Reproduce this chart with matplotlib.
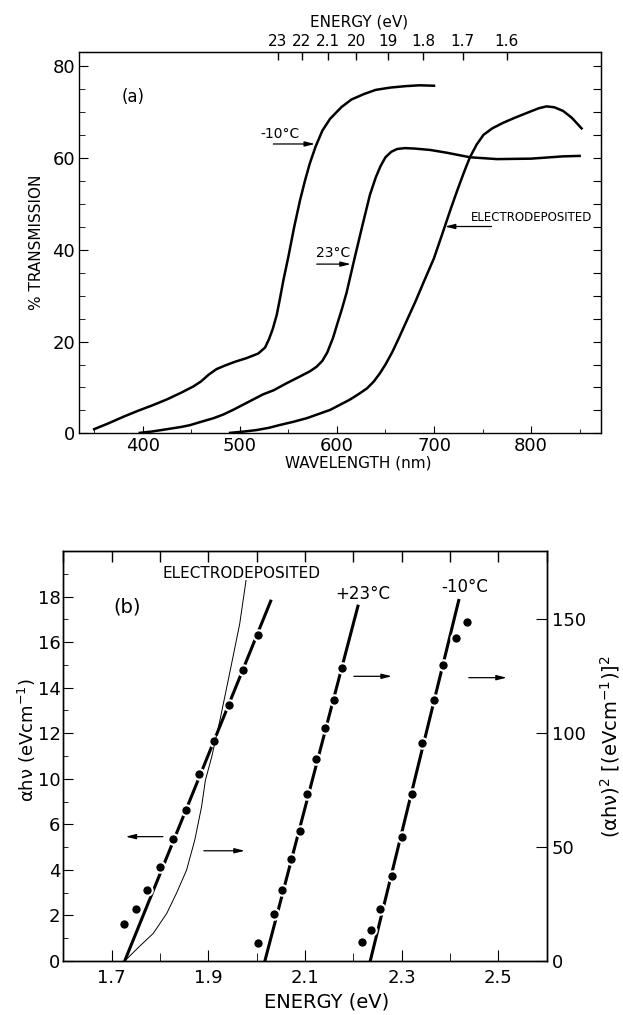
import numpy as np
import matplotlib
matplotlib.use('Agg')
import matplotlib.pyplot as plt
from matplotlib.ticker import MultipleLocator, FixedLocator

# ---- (a) optical transmission vs wavelength ----
wl_m10 = [350, 365, 380, 395, 410, 425, 440, 452, 460, 468, 476, 485, 495, 507, 519, 526, 530,
          534, 538, 541, 545, 550, 556, 562, 567, 572, 578, 585, 593, 605, 615, 628, 640, 655,
          670, 685, 700]
tr_m10 = [0.9, 2.2, 3.6, 4.9, 6.1, 7.4, 8.9, 10.2, 11.3, 12.8, 14.0, 14.8, 15.6, 16.4, 17.4,
          18.7, 20.5, 22.8, 25.8, 29.0, 33.5, 38.5, 45.0, 50.8, 55.0, 58.8, 62.5, 66.0, 68.6,
          71.2, 72.8, 74.0, 74.9, 75.4, 75.7, 75.9, 75.8]

wl_23 = [397, 410, 425, 440, 449, 460, 473, 483, 493, 503, 514, 524, 535, 548, 562, 572, 579,
         585, 590, 596, 600, 605, 610, 617, 626, 634, 640, 645, 650, 656, 662, 670, 680, 696,
         713, 737, 765, 800, 833, 850]
tr_23 = [0.1, 0.4, 0.9, 1.4, 1.8, 2.5, 3.3, 4.1, 5.1, 6.2, 7.4, 8.5, 9.4, 10.9, 12.4, 13.5,
         14.5, 15.8, 17.6, 20.8, 23.6, 27.0, 30.7, 37.1, 45.1, 52.0, 55.8, 58.3, 60.2, 61.4,
         62.0, 62.2, 62.1, 61.8, 61.2, 60.2, 59.8, 59.9, 60.4, 60.5]

wl_ed = [490, 505, 517, 530, 541, 555, 569, 581, 593, 603, 613, 622, 631, 638, 644, 650, 657,
         663, 672, 681, 689, 700, 710, 717, 724, 731, 737, 744, 751, 760, 771, 783, 796, 808,
         816, 824, 833, 842, 852]
tr_ed = [0.1, 0.4, 0.7, 1.2, 1.8, 2.5, 3.3, 4.2, 5.1, 6.2, 7.3, 8.5, 9.8, 11.3, 13.0, 15.0,
         17.7, 20.4, 24.6, 28.8, 32.8, 38.2, 44.4, 48.8, 53.0, 57.0, 60.2, 63.0, 65.1, 66.5,
         67.7, 68.8, 69.9, 70.9, 71.3, 71.1, 70.3, 68.8, 66.5]

ev_ticks_top = [2.3, 2.2, 2.1, 2.0, 1.9, 1.8, 1.7, 1.6]
ev_labels_top = ['23', '22', '2.1', '20', '19', '1.8', '1.7', '1.6']

# ---- (b) absorption edge plots ----
# electrodeposited, alpha*h*nu (left axis)
ed_E = [1.725, 1.750, 1.774, 1.801, 1.827, 1.853, 1.881, 1.911, 1.942, 1.971, 2.003]
ed_a = [1.61, 2.28, 3.11, 4.12, 5.35, 6.62, 8.19, 9.66, 11.26, 12.76, 14.31]
ed_fit_E = [1.727, 2.029]
ed_fit_a = [0.0, 15.8]
# electrodeposited, (alpha*h*nu)^2 thin curve (right axis)
ed_sq_E = [1.727, 1.759, 1.786, 1.814, 1.834, 1.855, 1.872, 1.886, 1.894, 1.907, 1.924,
           1.944, 1.965, 1.978]
ed_sq = [0, 6.7, 12.1, 20.9, 29.7, 39.9, 53.1, 67.7, 79.4, 89.6, 105.7, 126.2, 148.1, 167.1]

# +23 C, (alpha*h*nu)^2 (right axis)
p23_E = [2.003, 2.036, 2.053, 2.072, 2.089, 2.104, 2.122, 2.141, 2.159, 2.177]
p23_sq = [7.8, 20.5, 31.1, 44.7, 57.2, 73.2, 88.6, 102.3, 114.8, 128.5]
p23_fit_E = [2.017, 2.2095]
p23_fit_sq = [0.0, 155.8]

# -10 C, (alpha*h*nu)^2 (right axis)
m10_E = [2.217, 2.237, 2.256, 2.279, 2.300, 2.321, 2.343, 2.367, 2.385, 2.413, 2.436]
m10_sq = [8.5, 13.6, 22.8, 37.4, 54.5, 73.2, 95.9, 114.8, 130.1, 141.8, 148.7]
m10_fit_E = [2.235, 2.418]
m10_fit_sq = [0.0, 158.3]

left_tick_pos = [0, 2, 4, 6, 8, 10, 12, 14, 16]
left_tick_labels = ['0', '2', '4', '6', '10', '12', '14', '16', '18']

plt.rcParams['font.family'] = ['DejaVu Sans']
plt.rcParams['mathtext.fontset'] = 'dejavusans'

fig = plt.figure(figsize=(6.23, 10.15), dpi=100)

arrow = dict(arrowstyle='-|>,head_length=0.6,head_width=0.15', lw=0.9, color='k',
             shrinkA=0, shrinkB=0)


def wl_to_ev(w):
    w = np.asarray(w, dtype=float)
    with np.errstate(divide='ignore'):
        return 1240.0 / w


# ================= (a) =================
ax_a = fig.add_axes([0.1273, 0.5731, 0.8374, 0.3754])
ax_a.plot(wl_m10, tr_m10, color='k', lw=1.8, solid_joinstyle='round')
ax_a.plot(wl_23, tr_23, color='k', lw=1.8, solid_joinstyle='round')
ax_a.plot(wl_ed, tr_ed, color='k', lw=1.8, solid_joinstyle='round')
ax_a.set_xlim(334.7, 872)
ax_a.set_ylim(0, 83.1)
ax_a.set_xticks([400, 500, 600, 700, 800])
ax_a.xaxis.set_minor_locator(MultipleLocator(50))
ax_a.set_yticks([0, 20, 40, 60, 80])
ax_a.yaxis.set_minor_locator(MultipleLocator(5))
ax_a.tick_params(which='both', direction='in', labelsize=13)
ax_a.tick_params(axis='x', which='major', length=4.8, pad=3)
ax_a.tick_params(axis='x', which='minor', length=3.1)
ax_a.tick_params(axis='y', which='major', length=6.5, pad=3)
ax_a.tick_params(axis='y', which='minor', length=4.1)
for s in ax_a.spines.values():
    s.set_linewidth(1.0)

ax_a.set_xlabel('WAVELENGTH (nm)', fontsize=11)
ax_a.xaxis.set_label_coords(0.5356, -0.058)
ax_a.set_ylabel('% TRANSMISSION', fontsize=11)
ax_a.yaxis.set_label_coords(-0.0686, 0.5)

top_a = ax_a.secondary_xaxis('top', functions=(wl_to_ev, wl_to_ev))
top_a.set_xticks(ev_ticks_top)
top_a.set_xticklabels(ev_labels_top)
top_a.tick_params(direction='in', length=6, width=1.0, pad=2, labelsize=11)
ax_a.text(0.5356, 1.080, 'ENERGY (eV)', transform=ax_a.transAxes, fontsize=11,
          ha='center', va='center')

right_a = ax_a.secondary_yaxis('right')
right_a.set_yticks(np.arange(0, 85, 5))
right_a.tick_params(direction='in', length=5.5, labelright=False)

ax_a.text(390.3, 73.4, '(a)', fontsize=12, ha='center', va='center')
ax_a.text(541.4, 65.2, '-10°C', fontsize=10, ha='center', va='center')
ax_a.annotate('', xy=(577.4, 63.1), xytext=(534.5, 63.1), arrowprops=arrow)
ax_a.text(595.7, 39.4, '23°C', fontsize=10, ha='center', va='center')
ax_a.annotate('', xy=(614.3, 36.9), xytext=(579.2, 36.9), arrowprops=arrow)
ax_a.text(800.4, 47.0, 'ELECTRODEPOSITED', fontsize=8.5, ha='center', va='center')
ax_a.annotate('', xy=(711.2, 45.1), xytext=(759.2, 45.1), arrowprops=arrow)

# ================= (b) =================
ax_b = fig.add_axes([0.1016, 0.0532, 0.7759, 0.4039])
ax2 = ax_b.twinx()

ax_b.plot(ed_fit_E, ed_fit_a, color='k', lw=2.2, zorder=2)
ax_b.plot(ed_E, ed_a, 'o', ms=7.5, mfc='k', mec='white', mew=1.5, zorder=3)

ax2.plot(ed_sq_E, ed_sq, color='k', lw=0.7, zorder=2)
ax2.plot(p23_fit_E, p23_fit_sq, color='k', lw=2.2, zorder=2)
ax2.plot(p23_E, p23_sq, 'o', ms=7.5, mfc='k', mec='white', mew=1.5, zorder=3)
ax2.plot(m10_fit_E, m10_fit_sq, color='k', lw=2.2, zorder=2)
ax2.plot(m10_E, m10_sq, 'o', ms=7.5, mfc='k', mec='white', mew=1.5, zorder=3)

ax_b.set_xlim(1.6, 2.6)
ax_b.set_ylim(0, 18)
ax2.set_ylim(0, 180)

ax_b.set_xticks([1.7, 1.9, 2.1, 2.3, 2.5])
ax_b.set_xticklabels(['1.7', '1.9', '2.1', '2.3', '2.5'])
ax_b.xaxis.set_minor_locator(MultipleLocator(0.1))
ax_b.set_yticks(left_tick_pos)
ax_b.set_yticklabels(left_tick_labels)
ax_b.yaxis.set_minor_locator(FixedLocator([1, 3, 5, 7, 9, 11, 13, 15, 17]))
ax_b.tick_params(which='both', direction='in', labelsize=13)
ax_b.tick_params(axis='x', which='major', length=8, pad=5.5)
ax_b.tick_params(axis='x', which='minor', length=5.5)
ax_b.tick_params(axis='y', which='major', length=7.2, pad=2)
ax_b.tick_params(axis='y', which='minor', length=3.6)

ax2.set_yticks([0, 50, 100, 150])
ax2.tick_params(axis='y', direction='in', length=7.7, pad=3.6, labelsize=13)
# ticks along the top edge at every 0.1 eV
ax2.xaxis.set_visible(True)
ax2.tick_params(axis='x', which='both', top=True, bottom=False, labeltop=False,
                labelbottom=False, direction='in', length=7.7, width=1.0)
for a in (ax_b, ax2):
    for s in a.spines.values():
        s.set_linewidth(1.0)

ax_b.set_xlabel('ENERGY (eV)', fontsize=14)
ax_b.xaxis.set_label_coords(0.5445, -0.0757)
ax_b.set_ylabel('αhν (eVcm$^{-1}$)', fontsize=13)
ax_b.yaxis.set_label_coords(-0.052, 0.539)
ax2.set_ylabel('(αhν)$^2$ [(eVcm$^{-1}$)]$^2$', fontsize=14)
ax2.yaxis.set_label_coords(1.106, 0.524)

ax_b.text(1.732, 15.54, '(b)', fontsize=14, ha='center', va='center')
ax_b.text(1.968, 17.0, 'ELECTRODEPOSITED', fontsize=11, ha='center', va='center')
ax_b.text(2.22, 16.13, '+23°C', fontsize=12, ha='center', va='center')
ax_b.text(2.43, 16.42, '-10°C', fontsize=12, ha='center', va='center')

ax_b.annotate('', xy=(1.729, 5.46), xytext=(1.806, 5.46), arrowprops=arrow)
ax_b.annotate('', xy=(1.9754, 4.84), xytext=(1.8907, 4.84), arrowprops=arrow)
ax_b.annotate('', xy=(2.2797, 12.5), xytext=(2.2012, 12.5), arrowprops=arrow)
ax_b.annotate('', xy=(2.5174, 12.44), xytext=(2.4388, 12.44), arrowprops=arrow)

fig.savefig('out.png', dpi=100)
